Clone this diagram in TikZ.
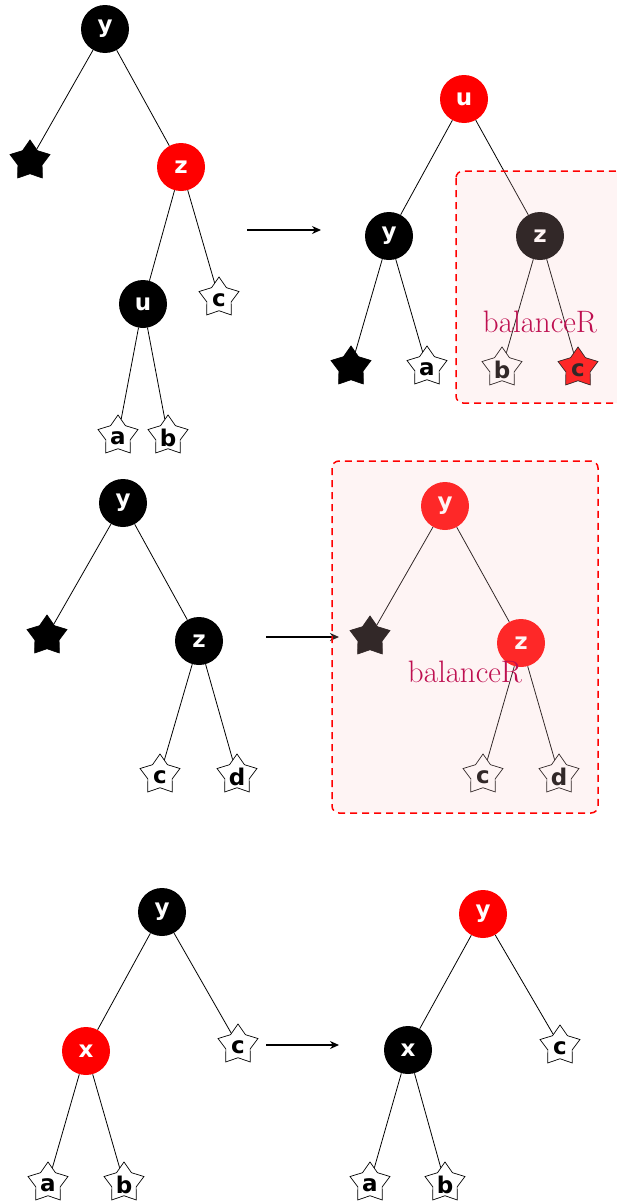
\documentclass[tikz,border=0pt]{standalone}
\usepackage{fontspec}
\setsansfont{DejaVu Sans}
\usetikzlibrary{shapes.geometric,arrows.meta}
\definecolor{ovl}{RGB}{250,200,200}
\definecolor{lblc}{RGB}{190,15,80}
\tikzset{
  rb/.style={circle,minimum size=48pt,inner sep=0pt,text=white,font=\sffamily\bfseries\fontsize{23}{23}\selectfont},
  blk/.style={rb,fill=black},
  rd/.style={rb,fill=red},
  leaf/.style={star,star points=5,star point ratio=1.65,minimum size=42pt,inner sep=0pt,draw=black,line width=0.7pt,fill=white,
     label={[font=\sffamily\bfseries\fontsize{23}{23}\selectfont,yshift=-2pt]center:#1}},
  bleaf/.style={star,star points=5,star point ratio=1.65,minimum size=42pt,inner sep=0pt,draw=black,line width=0.7pt,fill=black},
  rleaf/.style={leaf=#1,fill=red},
  edge/.style={line width=0.8pt},
  arr/.style={line width=1.2pt,-{Stealth[length=9pt,width=8pt]}},
  ovbox/.style={fill=ovl,opacity=0.2,rounded corners=7pt},
  dbox/.style={draw=red,dashed,dash pattern=on 7pt off 5pt,line width=1.5pt,rounded corners=7pt},
  lbl/.style={text=lblc,font=\fontsize{31}{31}\selectfont}
}
\begin{document}
\begin{tikzpicture}[x=1pt,y=-1pt]
\useasboundingbox (0,0) rectangle (616,1202);
% ---------- top left ----------
\node[blk] (ty) at (105,29) {y};
\node[bleaf] (tbs) at (30,161) {};
\node[rd] (tz) at (181,167) {z};
\node[blk] (tu) at (143,304) {u};
\node[leaf=c] (tc) at (219,298) {};
\node[leaf=a] (ta) at (118,436) {};
\node[leaf=b] (tb) at (168,436) {};
\draw[edge] (ty) -- (tbs); \draw[edge] (ty) -- (tz);
\draw[edge] (tz) -- (tu); \draw[edge] (tz) -- (tc);
\draw[edge] (tu) -- (ta); \draw[edge] (tu) -- (tb);
\coordinate (ar1s) at (247,230); \coordinate (ar1e) at (321,230);
\draw[arr] (ar1s) -- (ar1e);
% ---------- top right ----------
\node[rd] (ru) at (464,99) {u};
\node[blk] (ry) at (389,236) {y};
\node[blk] (rz) at (540,236) {z};
\node[bleaf] (rbs) at (351,367) {};
\node[leaf=a] (ra) at (427,367) {};
\node[leaf=b] (rb) at (502,368) {};
\node[rleaf=c] (rc) at (578,368) {};
\draw[edge] (ru) -- (ry); \draw[edge] (ru) -- (rz);
\draw[edge] (ry) -- (rbs); \draw[edge] (ry) -- (ra);
\draw[edge] (rz) -- (rb); \draw[edge] (rz) -- (rc);
\fill[ovbox] (456,171) rectangle (630,403);
\draw[dbox] (456,171) rectangle (630,403);
\node[lbl] (l1) at (540,322) {balanceR};
% ---------- middle left ----------
\node[blk] (my) at (123,503) {y};
\node[bleaf] (mbs) at (47,636) {};
\node[blk] (mz) at (199,641) {z};
\node[leaf=c] (mc) at (160,775) {};
\node[leaf=d] (md) at (237,775) {};
\draw[edge] (my) -- (mbs); \draw[edge] (my) -- (mz);
\draw[edge] (mz) -- (mc); \draw[edge] (mz) -- (md);
\coordinate (ar2s) at (266,637); \coordinate (ar2e) at (339,637);
\draw[arr] (ar2s) -- (ar2e);
% ---------- middle right ----------
\node[rd] (ny) at (445,506) {y};
\node[bleaf] (nbs) at (370,637) {};
\node[rd] (nz) at (521,643) {z};
\node[leaf=c] (nc) at (483,775) {};
\node[leaf=d] (nd) at (559,775) {};
\draw[edge] (ny) -- (nbs); \draw[edge] (ny) -- (nz);
\draw[edge] (nz) -- (nc); \draw[edge] (nz) -- (nd);
\fill[ovbox] (332,461) rectangle (598,813);
\draw[dbox] (332,461) rectangle (598,813);
\node[lbl] (l2) at (465,672) {balanceR};
% ---------- bottom left ----------
\node[blk] (by) at (162,912) {y};
\node[rd] (bx) at (86,1051) {x};
\node[leaf=c] (bc) at (238,1045) {};
\node[leaf=a] (ba) at (48,1183) {};
\node[leaf=b] (bb) at (124,1183) {};
\draw[edge] (by) -- (bx); \draw[edge] (by) -- (bc);
\draw[edge] (bx) -- (ba); \draw[edge] (bx) -- (bb);
\coordinate (ar3s) at (266,1045); \coordinate (ar3e) at (339,1045);
\draw[arr] (ar3s) -- (ar3e);
% ---------- bottom right ----------
\node[rd] (qy) at (483,914) {y};
\node[blk] (qx) at (408,1050) {x};
\node[leaf=c] (qc) at (560,1046) {};
\node[leaf=a] (qa) at (370,1183) {};
\node[leaf=b] (qb) at (445,1183) {};
\draw[edge] (qy) -- (qx); \draw[edge] (qy) -- (qc);
\draw[edge] (qx) -- (qa); \draw[edge] (qx) -- (qb);
\end{tikzpicture}
\end{document}
